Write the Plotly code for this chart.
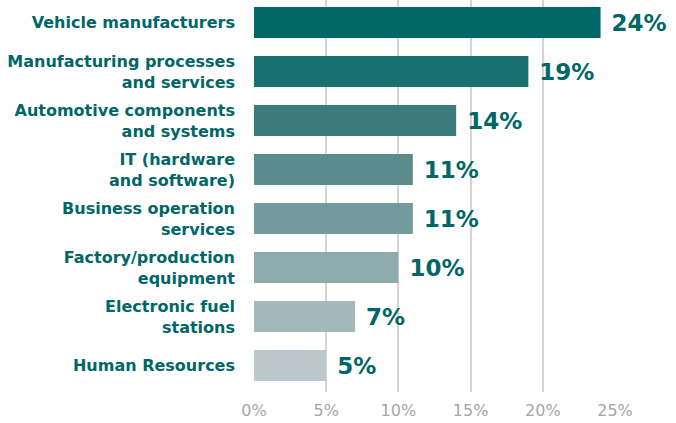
import plotly.graph_objects as go

categories = [
    "Vehicle manufacturers",
    "Manufacturing processes<br>and services",
    "Automotive components<br>and systems",
    "IT (hardware<br>and software)",
    "Business operation<br>services",
    "Factory/production<br>equipment",
    "Electronic fuel<br>stations",
    "Human Resources",
]
values = [24, 19, 14, 11, 11, 10, 7, 5]
labels = ["24%", "19%", "14%", "11%", "11%", "10%", "7%", "5%"]
colors = ["#006666", "#176f70", "#3a7b7d", "#5a8b8d", "#739a9c", "#8daaac", "#a3b9bb", "#bcc9cc"]
tick_vals = [0, 5, 10, 15, 20, 25]
tick_text = ["0%", "5%", "10%", "15%", "20%", "25%"]

fig = go.Figure(go.Bar(
    y=categories,
    x=values,
    orientation="h",
    marker=dict(color=colors, line=dict(width=0)),
    text=[" " + t for t in labels],
    textposition="outside",
    cliponaxis=False,
    textfont=dict(family="DejaVu Sans", size=23, color="#006666", weight="bold"),
    hoverinfo="skip",
))

fig.update_layout(
    width=676,
    height=423,
    margin=dict(l=254, r=61, t=0, b=31, autoexpand=False),
    paper_bgcolor="white",
    plot_bgcolor="white",
    showlegend=False,
    bargap=0.37,
    font=dict(family="DejaVu Sans"),
)

fig.update_xaxes(
    range=[0, 25],
    tickvals=tick_vals,
    ticktext=tick_text,
    showgrid=True,
    gridcolor="#d4d4d4",
    gridwidth=1.5,
    zeroline=False,
    showline=False,
    automargin=False,
    tickfont=dict(family="DejaVu Sans", size=16, color="#a6a6a6"),
    ticklabelstandoff=7,
    fixedrange=True,
)

fig.update_yaxes(
    categoryorder="array",
    categoryarray=categories,
    range=[7.54, -0.46],
    showgrid=False,
    zeroline=False,
    showline=False,
    automargin=False,
    tickfont=dict(family="DejaVu Sans", size=16, color="#006666", weight="bold"),
    ticklabelstandoff=18,
    fixedrange=True,
)

fig.write_html(
    "out.html",
    config={"displayModeBar": False},
    post_script="document.body.style.margin='0px';document.body.style.overflow='hidden';",
)
